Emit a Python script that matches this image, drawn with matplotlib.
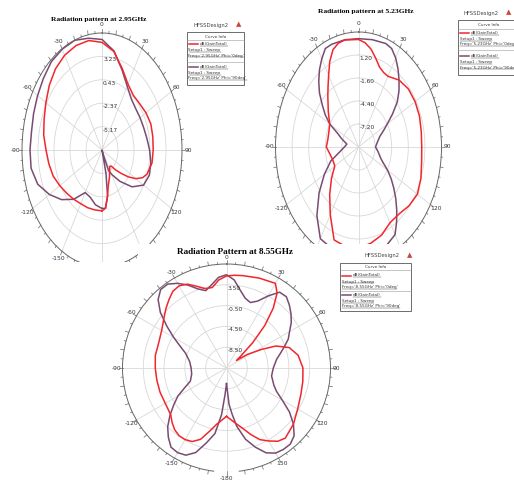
import numpy as np
import matplotlib.pyplot as plt
from matplotlib.patches import Rectangle
from matplotlib.lines import Line2D
import matplotlib.transforms as mtransforms

# ---- 2.95 GHz (gain in dB) ----
theta_a_red = [-180, -170, -160, -150, -140, -130, -120, -110, -100, -90, -80, -70, -60, -50, -40, -30,
               -20, -10, 0, 10, 20, 30, 40, 50, 60, 70, 80, 90, 100, 110, 115, 120, 125, 130, 135, 140,
               145, 150, 158, 166, 170, 175, 180]
gain_a_red = [-0.69, -0.69, -0.62, -0.55, -0.27, 0.08, 0.57, 1.13, 1.48, 1.83, 2.39, 2.81, 3.37, 4.07, 4.70,
              5.12, 5.33, 5.33, 4.91, 4.00, 2.39, 1.13, 0.57, 0.64, 0.92, 1.13, 1.06, 0.99, 0.92, 0.43,
              -0.13, -1.11, -2.37, -3.63, -4.61, -5.45, -5.59, -5.31, -4.47, -3.49, -2.37, -0.97, -0.69]
theta_a_pur = [-180, -170, -160, -150, -140, -130, -120, -110, -100, -90, -80, -70, -60, -50, -40, -30,
               -20, -10, 0, 10, 20, 30, 40, 50, 60, 70, 80, 90, 100, 110, 120, 130, 140, 150, 155, 158,
               161, 166, 170, 175, 180]
gain_a_pur = [-0.97, -1.32, -1.95, -2.09, -0.27, 1.27, 2.67, 4.00, 4.63, 4.63, 4.56, 4.77, 5.05, 5.40, 5.82,
              5.96, 6.00, 5.61, 5.26, 4.07, 2.25, 0.85, 0.01, -0.27, -0.27, -0.20, 0.01, 0.36, 0.71, 0.85,
              0.43, -1.11, -3.07, -4.61, -5.31, -7.27, -7.97, -5.09, -2.37, -0.97, -0.97]

# ---- 5.23 GHz ----
theta_b_red = [-180, -170, -160, -150, -140, -130, -120, -110, -100, -90, -80, -70, -60, -50, -40, -35,
               -30, -25, -20, -15, -10, 0, 5, 10, 15, 20, 25, 30, 40, 50, 60, 70, 80, 90, 100, 110, 120,
               130, 140, 150, 160, 170, 180]
gain_b_red = [2.32, 2.32, 2.04, -0.48, -2.44, -4.05, -5.38, -5.38, -5.10, -4.57, -4.75, -4.68, -4.40, -3.35,
              -1.95, -1.04, 0.08, 1.48, 2.60, 3.09, 3.23, 3.09, 2.74, 2.11, 1.20, 0.36, 0.01, -0.06, 0.64,
              0.99, 1.03, 0.95, 0.75, 0.67, 0.81, 1.20, 1.48, 1.13, 0.64, 0.64, 1.41, 1.90, 2.32]
theta_b_pur = [-180, -170, -160, -150, -140, -130, -120, -110, -100, -90, -80, -70, -65, -60, -55, -50,
               -45, -40, -35, -30, -25, -20, -10, 0, 10, 20, 25, 30, 35, 40, 45, 50, 55, 60, 65, 70, 80,
               90, 100, 110, 115, 120, 125, 130, 135, 140, 145, 150, 160, 170, 180]
gain_b_pur = [3.23, 3.23, 3.16, 2.88, 0.92, -1.32, -3.35, -5.03, -6.85, -7.62, -8.01, -6.92, -6.16, -4.40,
              -3.14, -2.02, -0.69, 0.43, 1.48, 2.39, 3.23, 3.30, 3.26, 3.19, 3.27, 3.41, 3.23, 2.53, 1.62,
              0.64, -0.34, -1.46, -3.00, -4.40, -5.38, -6.15, -6.78, -7.13, -6.64, -6.01, -5.38, -4.33,
              -3.28, -2.23, -1.11, 0.04, 1.20, 2.32, 3.02, 3.23, 3.23]

# ---- 8.55 GHz ----
theta_c_red = [-180, -170, -165, -160, -155, -150, -145, -140, -135, -130, -120, -110, -100, -90, -80, -70,
               -60, -50, -45, -40, -35, -30, -25, -20, -15, -10, -5, 0, 5, 10, 20, 30, 34, 38, 42, 46, 50,
               53, 57, 62, 66, 72, 80, 90, 100, 110, 120, 130, 140, 145, 150, 155, 160, 165, 170, 175, 180]
gain_c_red = [-3.2, -1.5, 0.1, 2.1, 3.1, 3.4, 3.4, 3.0, 2.3, 1.5, 1.1, 1.1, 1.1, 1.2, 1.4, 1.4, 1.9, 3.1,
              3.9, 4.7, 5.5, 5.74, 5.3, 4.22, 3.3, 3.22, 4.5, 5.2, 5.4, 5.54, 5.9, 6.3, 4.9, 2.1, -1.5,
              -5.5, -8.9, -10.1, -7.7, -4.9, -2.1, 0.2, 1.5, 2.2, 2.4, 2.7, 3.3, 4.3, 5.1, 4.7, 3.7, 2.7,
              1.1, -0.5, -1.6, -2.5, -3.2]
theta_c_pur = [-180, -177, -174, -170, -165, -160, -155, -150, -145, -140, -135, -130, -125, -120, -115,
               -110, -100, -90, -80, -70, -65, -60, -55, -50, -45, -40, -35, -30, -25, -20, -15, -10, -5,
               0, 5, 10, 15, 20, 25, 30, 35, 40, 45, 50, 55, 60, 65, 70, 75, 80, 90, 100, 105, 110, 115,
               120, 125, 130, 135, 140, 145, 150, 155, 160, 165, 170, 173, 176, 180]
gain_c_pur = [-9.5, -7.5, -3.5, 0.3, 2.4, 4.8, 6.0, 6.3, 6.1, 4.9, 3.5, 1.7, -0.1, -1.7, -3.7, -5.1, -5.7,
              -5.7, -5.3, -4.1, -2.7, -0.8, 1.5, 4.1, 6.1, 7.2, 7.2, 6.3, 5.1, 3.7, 2.9, 3.8, 5.0, 5.44,
              4.5, 2.7, 1.4, 0.9, 1.7, 3.5, 5.3, 5.4, 4.6, 3.7, 2.7, 1.5, 0.6, -0.7, -1.8, -2.7, -3.5,
              -3.7, -3.3, -2.8, -1.9, -0.1, 2.3, 4.3, 5.9, 6.6, 6.6, 6.4, 5.5, 3.7, 1.7, -1.1, -3.5, -5.5,
              -9.5]

spoke_deg = [0, 30, 60, 90, 120, 150, 180, 210, 240, 270, 300, 330]
spoke_text = ['0', '30', '60', '90', '120', '150', '-180', '-150', '-120', '-90', '-60', '-30']

RED = '#f2262b'
PURPLE = '#7a4b70'

W, H = 514, 480
fig = plt.figure(figsize=(W / 100, H / 100), dpi=100)


def fx(x):
    return x / W


def fy(y):
    return 1 - y / H


def box_px(x0, y0, x1, y1):
    return [fx(x0), fy(y1), (x1 - x0) / W, (y1 - y0) / H]


def polar_panel(box, rmin, rmax, rticks, rlabels, zorder, rim_gap=False, lab_off=0.075, hidden=()):
    ax = fig.add_axes(box_px(*box), projection='polar', zorder=zorder)
    ax.set_aspect('auto')
    ax.set_theta_zero_location('N')
    ax.set_theta_direction(-1)
    ax.set_xticks(np.radians(spoke_deg))
    ax.set_xticklabels([])
    ax.set_yticks(rticks)
    ax.set_yticklabels([])
    ax.tick_params(axis='x', length=0)
    ax.grid(True, color='#d8d8d8', lw=0.6)
    ax.spines['polar'].set_color('#666666')
    ax.spines['polar'].set_linewidth(0.7)
    span = rmax - rmin
    # tick marks round the rim
    for d in range(0, 360, 5):
        if rim_gap and 175 <= d <= 185:
            continue
        ln = 0.035 if d % 10 == 0 else 0.018
        ax.plot([np.radians(d)] * 2, [rmax, rmax + ln * span], color='#666666', lw=0.5, clip_on=False)
    if rim_gap:
        gap = np.radians(np.linspace(174, 186, 30))
        ax.plot(gap, [rmax] * len(gap), color='white', lw=2.0, clip_on=False, zorder=3)
        ax.plot([np.pi] * 2, [rmax - 0.01 * span, rmax + 0.04 * span], color='#666666', lw=0.5,
                clip_on=False, zorder=3.1)
    for d, s in zip(spoke_deg, spoke_text):
        if s in hidden:
            continue
        ax.text(np.radians(d), rmax + lab_off * span, s, fontsize=4.3, ha='center', va='center',
                color='#333344', clip_on=False)
    off = mtransforms.offset_copy(ax.transData, fig=fig, x=1.0, y=-1.0, units='dots')
    for v, s in zip(rticks, rlabels):
        ax.text(0, v, s, transform=off, fontsize=4.2, ha='left', va='top', color='#333333')
    ax.set_ylim(rmin, rmax)
    return ax


underlined = []


def curve_info(x0, y0, x1, y1, head_y, sep_ys, entries, logo_xy):
    fig.add_artist(Rectangle((fx(x0), fy(y1)), (x1 - x0) / W, (y1 - y0) / H, transform=fig.transFigure,
                             facecolor='white', edgecolor='#555555', lw=0.6, zorder=4))
    fig.text(fx((x0 + x1) / 2), fy(head_y), 'Curve Info', fontsize=3.0, ha='center', va='center',
             color='#333333', zorder=5)
    for sy in sep_ys:
        fig.add_artist(Line2D([fx(x0), fx(x1)], [fy(sy), fy(sy)], transform=fig.transFigure,
                              color='#999999', lw=0.4, zorder=5))
    for color, ly, freq in entries:
        fig.add_artist(Line2D([fx(x0 + 2), fx(x0 + 11)], [fy(ly), fy(ly)], transform=fig.transFigure,
                              color=color, lw=1.1, zorder=5))
        t1 = fig.text(fx(x0 + 13), fy(ly), 'dB(GainTotal)', fontsize=3.0, ha='left', va='center',
                      color='#333333', zorder=5)
        t2 = fig.text(fx(x0 + 1.5), fy(ly + 6), 'Setup1 : Sweep', fontsize=3.0, ha='left', va='center',
                      color='#333333', zorder=5)
        t3 = fig.text(fx(x0 + 1.5), fy(ly + 11.5), freq, fontsize=3.0, ha='left', va='center',
                      color='#333333', zorder=5)
        underlined.extend([t1, t2, t3])
    lx, ly = logo_xy
    fig.text(fx(lx), fy(ly), 'HFSSDesign2', fontsize=3.8, ha='center', va='center', color='#444444',
             zorder=5)
    fig.text(fx(lx + 28), fy(ly - 0.5), '\u25b2', fontsize=5, ha='center', va='center', color='#c9483c',
             zorder=5)


# top-left: 2.95 GHz
ax1 = polar_panel((22, 33, 182, 267), -7.97, 6.03, [-5.17, -2.37, 0.43, 3.23],
                  ['-5.17', '-2.37', '0.43', '3.23'], 0, hidden=('150', '-180'))
ax1.plot(np.radians(theta_a_pur), gain_a_pur, color=PURPLE, lw=1.1)
ax1.plot(np.radians(theta_a_red), gain_a_red, color=RED, lw=1.1)
fig.text(fx(99), fy(20), 'Radiation pattern at 2.95GHz', fontsize=5.4, fontweight='bold',
         family='Liberation Serif', ha='center', va='center')

# top-right: 5.23 GHz
ax2 = polar_panel((275.5, 32, 441.5, 262), -10.0, 4.0, [-7.2, -4.4, -1.6, 1.2],
                  ['-7.20', '-4.40', '-1.60', '1.20'], 0, hidden=('150', '-180', '-150'))
ax2.plot(np.radians(theta_b_pur), gain_b_pur, color=PURPLE, lw=1.1)
ax2.plot(np.radians(theta_b_red), gain_b_red, color=RED, lw=1.1)
fig.text(fx(366), fy(11), 'Radiation pattern at 5.23GHz', fontsize=5.4, fontweight='bold',
         family='Liberation Serif', ha='center', va='center')

# white sheet under the lower panel, cutting off the two upper plots
fig.add_artist(Rectangle((fx(138), 0), 1 - fx(138), fy(244), transform=fig.transFigure,
                         facecolor='white', edgecolor='none', zorder=0.5))
fig.add_artist(Rectangle((0, 0), 1, fy(262), transform=fig.transFigure,
                         facecolor='white', edgecolor='none', zorder=0.5))

# bottom: 8.55 GHz
ax3 = polar_panel((122.5, 264, 330.5, 472), -12.5, 7.5, [-8.5, -4.5, -0.5, 3.5],
                  ['-8.50', '-4.50', '-0.50', '3.50'], 1, rim_gap=True, lab_off=0.06)
ax3.plot(np.radians(theta_c_pur), gain_c_pur, color=PURPLE, lw=1.1)
ax3.plot(np.radians(theta_c_red), gain_c_red, color=RED, lw=1.1)
fig.text(fx(235), fy(251.5), 'Radiation Pattern at 8.55GHz', fontsize=6.6, fontweight='bold',
         family='Liberation Serif', ha='center', va='center', zorder=5)

curve_info(187, 32, 244, 85, 36.5, [40, 62],
           [(RED, 44, "Freq='2.95GHz' Phi='0deg'"), (PURPLE, 67, "Freq='2.95GHz' Phi='90deg'")],
           (211, 25))
curve_info(458, 20, 520, 75, 24.5, [29, 50],
           [(RED, 33, "Freq='5.23GHz' Phi='0deg'"), (PURPLE, 56, "Freq='5.23GHz' Phi='90deg'")],
           (481, 13))
curve_info(340, 263, 411, 311, 266.5, [270, 291],
           [(RED, 275.5, "Freq='8.55GHz' Phi='0deg'"), (PURPLE, 295, "Freq='8.55GHz' Phi='90deg'")],
           (382, 256))

# underline the legend entries
renderer = fig.canvas.get_renderer()
for t in underlined:
    bb = t.get_window_extent(renderer)
    fig.add_artist(Line2D([bb.x0, bb.x1], [bb.y0 + 0.3, bb.y0 + 0.3], transform=mtransforms.IdentityTransform(),
                          color='#333333', lw=0.3, zorder=5))

fig.savefig('out.png', dpi=100, facecolor='white')
